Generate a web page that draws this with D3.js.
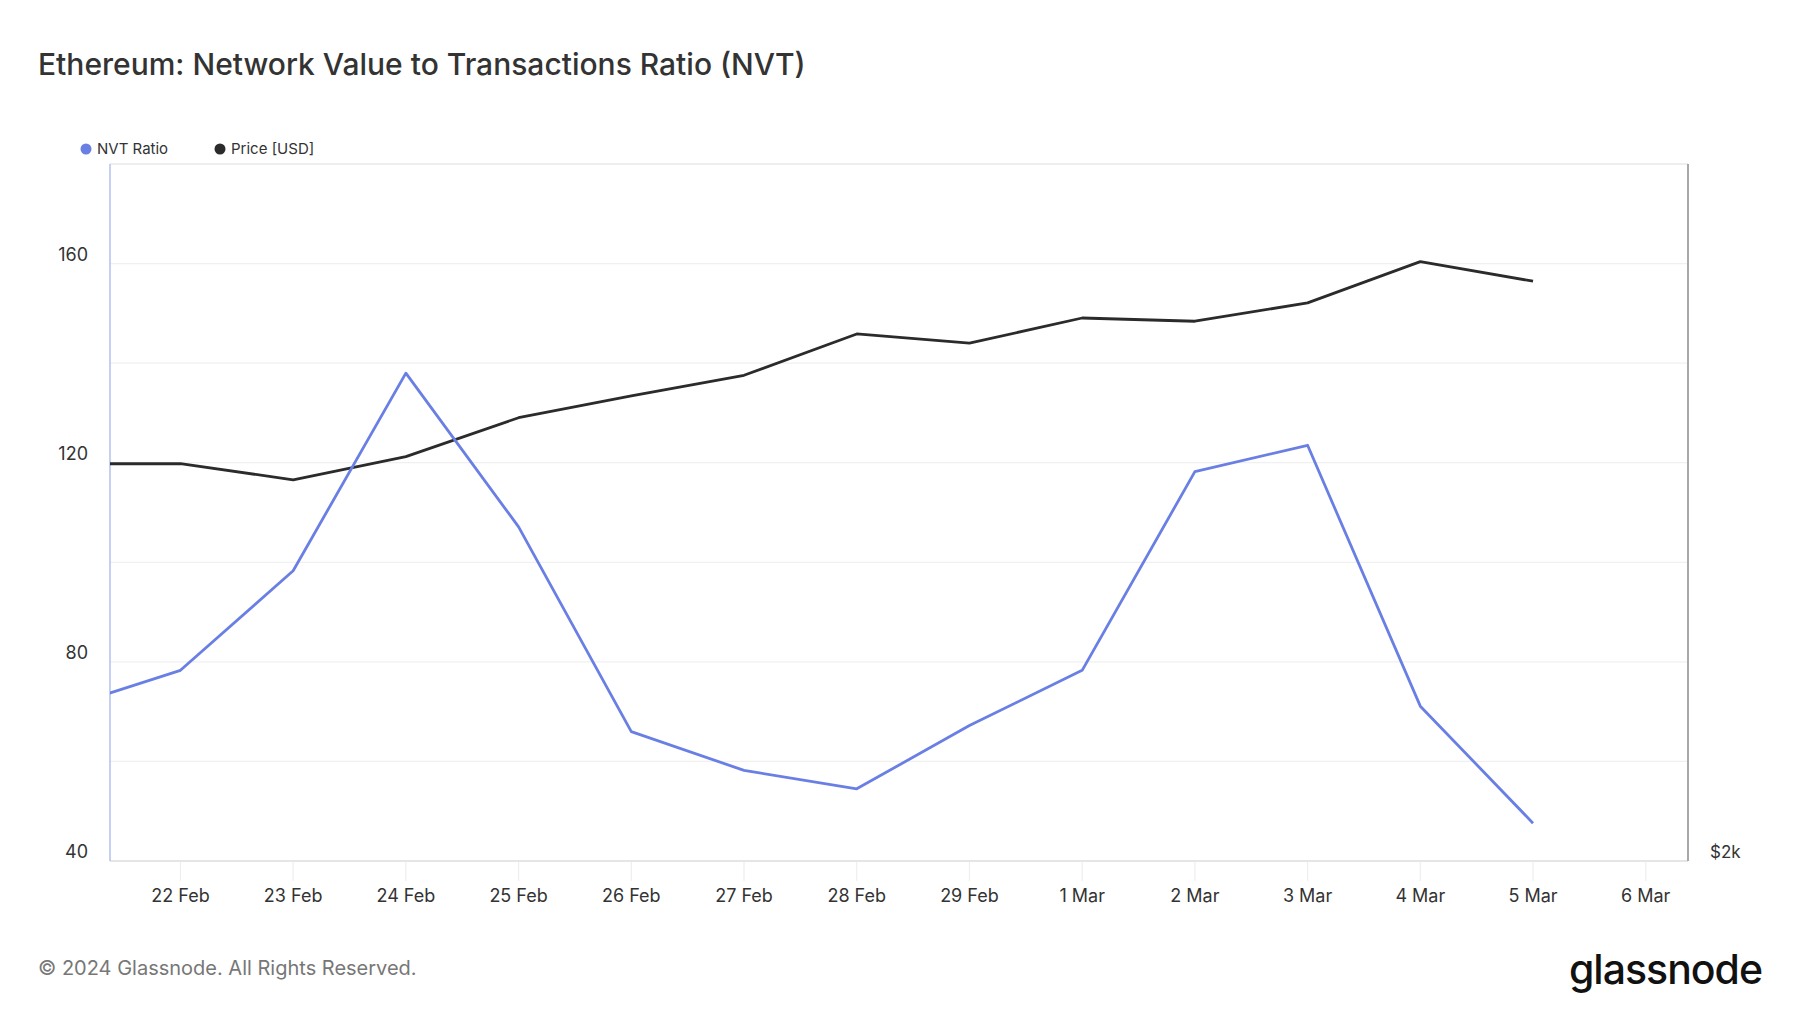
<!DOCTYPE html>
<html>
<head>
<meta charset="utf-8">
<script src="https://cdn.jsdelivr.net/npm/d3@7"></script>
<style>
  html, body { margin: 0; padding: 0; background: #fff; }
  svg { display: block; font-family: Inter, "Noto Sans", sans-serif; }
</style>
</head>
<body>
<svg id="chart" width="1800" height="1013"></svg>
<script>
// --- Data ---
const dates = ["2024-02-21", "2024-02-22", "2024-02-23", "2024-02-24", "2024-02-25", "2024-02-26",
               "2024-02-27", "2024-02-28", "2024-02-29", "2024-03-01", "2024-03-02", "2024-03-03",
               "2024-03-04", "2024-03-05"];
const nvtRatio = [71.0, 78.3, 98.3, 138.0, 107.1, 66.0, 58.2, 54.5, 67.2, 78.3, 118.2, 123.5, 71.1, 47.6];
const priceUsd = [2969, 2969, 2922, 2990, 3108, 3176, 3242, 3378, 3347, 3432, 3421, 3484, 3630, 3560];
const xTickDates = ["2024-02-22", "2024-02-23", "2024-02-24", "2024-02-25", "2024-02-26", "2024-02-27",
                    "2024-02-28", "2024-02-29", "2024-03-01", "2024-03-02", "2024-03-03", "2024-03-04",
                    "2024-03-05", "2024-03-06"];
const leftTicks = [40, 80, 120, 160];
const gridValues = [60, 80, 100, 120, 140, 160];
const rightTicks = [2000];

const W = 1800, H = 1013;
const m = { left: 110, right: 1688, top: 164, bottom: 861 };

const svg = d3.select("#chart");
const parse = d3.utcParse("%Y-%m-%d");

const x = d3.scaleUtc()
  .domain([new Date(Date.UTC(2024, 1, 21, 9)), new Date(Date.UTC(2024, 2, 6, 9))])
  .range([m.left, m.right]);
const yL = d3.scaleLinear().domain([40, 180]).range([m.bottom, m.top]);
const yR = d3.scaleLog().domain([2000, 4000]).range([m.bottom, m.top]);

// Title
svg.append("text")
  .attr("x", 38).attr("y", 75)
  .attr("font-size", 30).attr("font-weight", 500).attr("fill", "#333")
  .text("Ethereum: Network Value to Transactions Ratio (NVT)");

// Legend
const legend = [
  { label: "NVT Ratio", color: "#6a7fe4", x: 86 },
  { label: "Price [USD]", color: "#2b2b2b", x: 220 }
];
const lg = svg.append("g").selectAll("g").data(legend).join("g");
lg.append("circle").attr("cx", d => d.x).attr("cy", 149).attr("r", 5.5).attr("fill", d => d.color);
lg.append("text").attr("x", d => d.x + 11).attr("y", 154)
  .attr("font-size", 15).attr("fill", "#333").text(d => d.label);

// Grid
svg.append("g").selectAll("line").data(gridValues).join("line")
  .attr("x1", m.left).attr("x2", m.right)
  .attr("y1", d => yL(d)).attr("y2", d => yL(d))
  .attr("stroke", "#f0f0f0").attr("stroke-width", 1.2);

// X tick marks below plot
svg.append("g").selectAll("line").data(xTickDates.map(parse)).join("line")
  .attr("x1", d => x(d)).attr("x2", d => x(d))
  .attr("y1", m.bottom + 1).attr("y2", m.bottom + 20)
  .attr("stroke", "#eeeeee").attr("stroke-width", 1.2);

// X labels
svg.append("g").selectAll("text").data(xTickDates.map(parse)).join("text")
  .attr("x", d => x(d)).attr("y", 902)
  .attr("text-anchor", "middle").attr("font-size", 18).attr("fill", "#333")
  .text(d3.utcFormat("%-d %b"));

// Left labels
svg.append("g").selectAll("text").data(leftTicks).join("text")
  .attr("x", 88).attr("y", d => yL(d) - 3)
  .attr("text-anchor", "end").attr("font-size", 18).attr("fill", "#333")
  .text(d => d);

// Right labels
svg.append("g").selectAll("text").data(rightTicks).join("text")
  .attr("x", 1710).attr("y", d => yR(d) - 3)
  .attr("font-size", 17).attr("fill", "#333")
  .text(d => "$" + d3.format("~s")(d));

// Plot borders
svg.append("line").attr("x1", m.left).attr("x2", m.right).attr("y1", m.top).attr("y2", m.top)
  .attr("stroke", "#e8e8e8").attr("stroke-width", 1.5);
svg.append("line").attr("x1", m.left).attr("x2", m.right).attr("y1", m.bottom).attr("y2", m.bottom)
  .attr("stroke", "#dcdcdc").attr("stroke-width", 1.5);
svg.append("line").attr("x1", m.left).attr("x2", m.left).attr("y1", m.top).attr("y2", m.bottom)
  .attr("stroke", "#b3c0f2").attr("stroke-width", 1.5);
svg.append("line").attr("x1", m.right).attr("x2", m.right).attr("y1", m.top).attr("y2", m.bottom)
  .attr("stroke", "#a8a8a8").attr("stroke-width", 2);

// Clip
svg.append("clipPath").attr("id", "plotClip").append("rect")
  .attr("x", m.left).attr("y", m.top).attr("width", m.right - m.left).attr("height", m.bottom - m.top);

const plot = svg.append("g").attr("clip-path", "url(#plotClip)");
const ds = dates.map(parse);

plot.append("path")
  .attr("fill", "none").attr("stroke", "#2b2b2b").attr("stroke-width", 2.8).attr("stroke-linejoin", "round")
  .attr("d", d3.line().x((d, i) => x(ds[i])).y(d => yR(d))(priceUsd));

plot.append("path")
  .attr("fill", "none").attr("stroke", "#6a7fe4").attr("stroke-width", 2.8).attr("stroke-linejoin", "round")
  .attr("d", d3.line().x((d, i) => x(ds[i])).y(d => yL(d))(nvtRatio));

// Footer
svg.append("text").attr("x", 38).attr("y", 975)
  .attr("font-size", 20).attr("fill", "#777")
  .text("© 2024 Glassnode. All Rights Reserved.");
svg.append("text").attr("x", 1762).attr("y", 984)
  .attr("text-anchor", "end").attr("font-size", 41).attr("font-weight", 500)
  .attr("letter-spacing", -1).attr("fill", "#111")
  .text("glassnode");
</script>
</body>
</html>
